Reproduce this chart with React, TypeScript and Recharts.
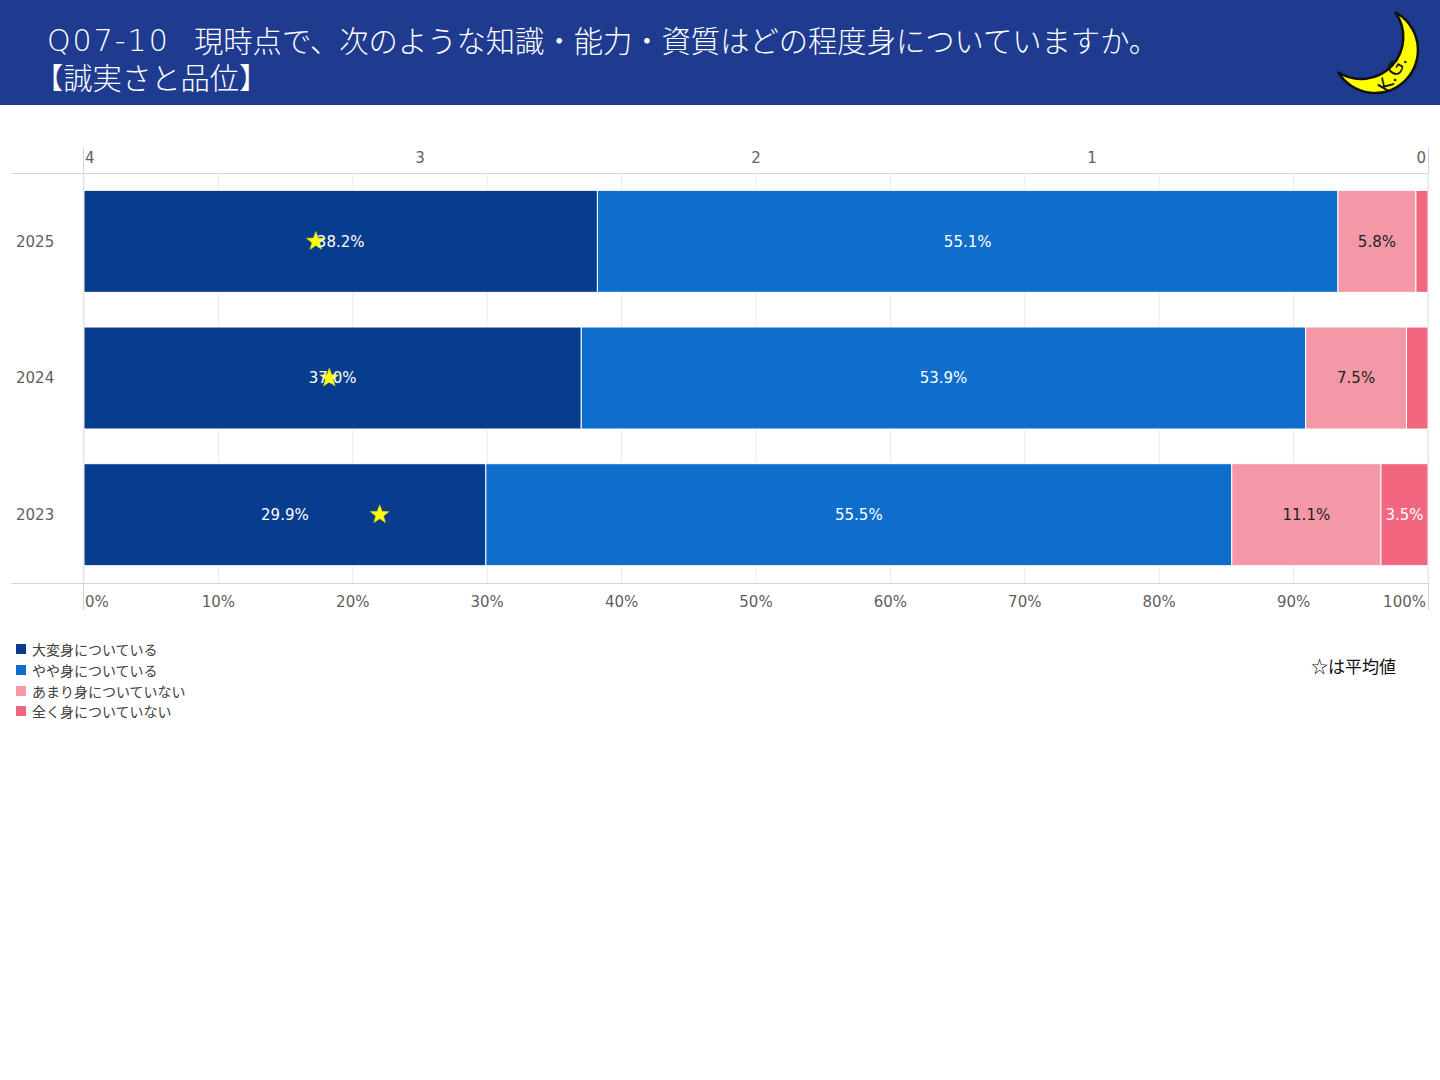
import { ComposedChart, Bar, Scatter, XAxis, YAxis, CartesianGrid, LabelList } from "recharts";

const years = ["2025", "2024", "2023"];
const veryMuch = [38.2, 37.0, 29.9];
const somewhat = [55.1, 53.9, 55.5];
const notMuch = [5.8, 7.5, 11.1];
const notAtAll = [0.9, 1.6, 3.5];
const averages = [3.31, 3.27, 3.12];
const pctTicks = [0, 10, 20, 30, 40, 50, 60, 70, 80, 90, 100];
const scoreTicks = [4, 3, 2, 1, 0];

const seriesNames = ["大変身についている", "やや身についている", "あまり身についていない", "全く身についていない"];
const colors = ["#083c8d", "#0f6ecc", "#f498a7", "#f2667f"];
const labelColors = ["#ffffff", "#ffffff", "#222222", "#ffffff"];
const keys = ["s1", "s2", "s3", "s4"];

const data = years.map((year, i) => ({
  year,
  s1: veryMuch[i],
  s2: somewhat[i],
  s3: notMuch[i],
  s4: notAtAll[i],
  avg: averages[i],
}));

const FONT = '"Noto Sans CJK JP", "Noto Sans", sans-serif';
const NUM_FONT = '"DejaVu Sans", "Noto Sans CJK JP", sans-serif';
const AXIS_COLOR = "#5f5f5f";
const LINE_COLOR = "#d4d4d4";

function PctTick(props: any) {
  const { x, y, payload } = props;
  const v = payload.value;
  const anchor = v === 0 ? "start" : v === 100 ? "end" : "middle";
  const dx = v === 0 ? 1 : v === 100 ? -2 : 0;
  return (
    <text x={x + dx} y={y + 16} textAnchor={anchor} fill={AXIS_COLOR} fontSize={15} fontFamily={NUM_FONT}>
      {v}%
    </text>
  );
}

function ScoreTick(props: any) {
  const { x, y, payload } = props;
  const v = payload.value;
  const anchor = v === 4 ? "start" : v === 0 ? "end" : "middle";
  const dx = v === 4 ? 1 : v === 0 ? -2 : 0;
  return (
    <text x={x + dx} y={y - 2} textAnchor={anchor} fill={AXIS_COLOR} fontSize={15} fontFamily={NUM_FONT}>
      {v}
    </text>
  );
}

function YearTick(props: any) {
  const { y, payload } = props;
  return (
    <text x={16} y={y} dy="0.35em" textAnchor="start" fill={AXIS_COLOR} fontSize={15} fontFamily={NUM_FONT}>
      {payload.value}
    </text>
  );
}

function Star(props: any) {
  const { cx, cy } = props;
  if (cx == null || cy == null) return null;
  const pts: string[] = [];
  for (let k = 0; k < 10; k++) {
    const r = k % 2 === 0 ? 10 : 4.2;
    const a = -Math.PI / 2 + (k * Math.PI) / 5;
    pts.push(`${cx + r * Math.cos(a)},${cy + r * Math.sin(a)}`);
  }
  return <polygon points={pts.join(" ")} fill="#ffff00" stroke="#d8c400" strokeWidth={0.5} />;
}

function makeLabel(idx: number) {
  return (props: any) => {
    const { x, y, width, height, value } = props;
    if (value == null || value < 3) return null;
    return (
      <text
        x={x + width / 2}
        y={y + height / 2}
        dy="0.35em"
        textAnchor="middle"
        fill={labelColors[idx]}
        fontSize={15}
        fontFamily={NUM_FONT}
      >
        {Number(value).toFixed(1)}%
      </text>
    );
  };
}

// crescent logo in the header
function Moon() {
  return (
    <svg width={110} height={105} viewBox="1330 0 110 105" style={{ position: "absolute", left: 1330, top: 0 }}>
      <path
        d="M 1395 12 A 43 43 0 1 1 1338 72 A 42 42 0 0 0 1395 12 Z"
        fill="#ffff00"
        stroke="#111"
        strokeWidth={2.5}
      />
      <text
        x={1398}
        y={77}
        transform="rotate(-60 1398 77)"
        textAnchor="middle"
        fontSize={19}
        fontFamily={NUM_FONT}
        fill="#111"
      >
        K.G.
      </text>
    </svg>
  );
}

export default function App() {
  return (
    <div style={{ position: "absolute", left: 0, top: 0, width: 1440, height: 1080, background: "#fff", fontFamily: FONT, overflow: "hidden" }}>
      <div style={{ position: "absolute", left: 0, top: 0, width: 1440, height: 105, background: "#1f3b8f" }} />
      <div style={{ position: "absolute", left: 47, top: 24, color: "#fff", fontSize: 30, lineHeight: "34px", whiteSpace: "nowrap", fontFamily: NUM_FONT, fontWeight: 300, letterSpacing: 2 }}>
        Q07-10
      </div>
      <div style={{ position: "absolute", left: 194, top: 22, color: "#fff", fontSize: 29.3, lineHeight: "34px", whiteSpace: "nowrap", fontWeight: 300 }}>
        現時点で、次のような知識・能力・資質はどの程度身についていますか。
      </div>
      <div style={{ position: "absolute", left: 34, top: 59, color: "#fff", fontSize: 29.3, lineHeight: "34px", whiteSpace: "nowrap", fontWeight: 300 }}>
        【誠実さと品位】
      </div>
      <Moon />

      <div style={{ position: "absolute", left: 11, top: 173, width: 1417, height: 1, background: LINE_COLOR }} />
      <div style={{ position: "absolute", left: 11, top: 583, width: 1417, height: 1, background: LINE_COLOR }} />
      <div style={{ position: "absolute", left: 83, top: 147, width: 1, height: 463, background: LINE_COLOR }} />
      <div style={{ position: "absolute", left: 1428, top: 147, width: 1, height: 463, background: LINE_COLOR }} />

      <div style={{ position: "absolute", left: 0, top: 0 }}>
        <ComposedChart
          width={1440}
          height={620}
          data={data}
          layout="vertical"
          margin={{ top: 143, right: 12, bottom: 7, left: 0 }}
          barCategoryGap="12.7%"
        >
          <CartesianGrid xAxisId="pct" horizontal={false} stroke="#ececec" />
          <XAxis
            xAxisId="pct"
            type="number"
            domain={[0, 100]}
            ticks={pctTicks}
            orientation="bottom"
            height={30}
            axisLine={false}
            tickLine={false}
            tick={<PctTick />}
            interval={0}
          />
          <XAxis
            xAxisId="score"
            type="number"
            domain={[0, 4]}
            ticks={scoreTicks}
            reversed
            orientation="top"
            height={30}
            axisLine={false}
            tickLine={false}
            tick={<ScoreTick />}
            interval={0}
          />
          <YAxis type="category" dataKey="year" width={84} axisLine={false} tickLine={false} tick={<YearTick />} />
          {keys.map((k, i) => (
            <Bar
              key={k}
              xAxisId="pct"
              dataKey={k}
              name={seriesNames[i]}
              stackId="a"
              fill={colors[i]}
              stroke="#ffffff"
              strokeWidth={1}
              isAnimationActive={false}
            >
              <LabelList dataKey={k} content={makeLabel(i)} />
            </Bar>
          ))}
          <Scatter xAxisId="score" dataKey="avg" shape={<Star />} isAnimationActive={false} />
        </ComposedChart>
      </div>

      <div style={{ position: "absolute", left: 16, top: 639, fontSize: 14, color: "#404040" }}>
        {seriesNames.map((n, i) => (
          <div key={n} style={{ display: "flex", alignItems: "center", height: 20.7 }}>
            <span style={{ display: "inline-block", width: 10, height: 10, background: colors[i], marginRight: 6 }} />
            <span>{n}</span>
          </div>
        ))}
      </div>
      <div style={{ position: "absolute", left: 1311, top: 653, fontSize: 17, color: "#111", whiteSpace: "nowrap" }}>
        ☆は平均値
      </div>
    </div>
  );
}
